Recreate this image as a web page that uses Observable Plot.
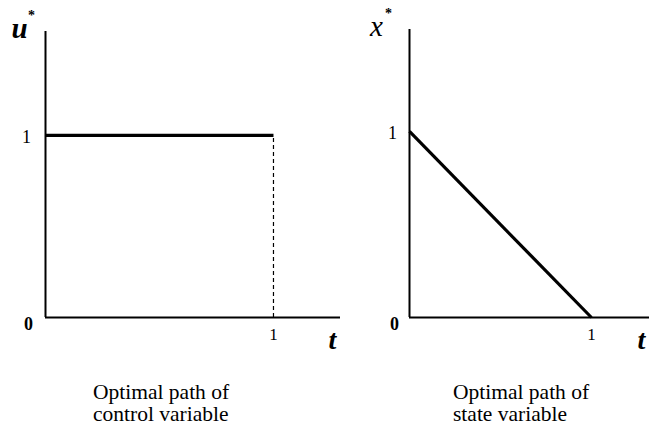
<!DOCTYPE html>
<html>
<head>
<meta charset="utf-8">
<script src="https://cdn.jsdelivr.net/npm/d3@7"></script>
<script src="https://cdn.jsdelivr.net/npm/@observablehq/plot@0.6"></script>
<style>
  html, body { margin: 0; padding: 0; background: #fff; font-family: 'Liberation Serif', serif; }
  #fig { position: relative; width: 649px; height: 430px; overflow: hidden; }
  .panel { position: absolute; top: 0; }
  .caption { position: absolute; font-size: 21.5px; line-height: 22px; color: #000; text-align: left; white-space: nowrap; }
</style>
</head>
<body>
<div id="fig">
  <div class="panel" id="left"></div>
  <div class="panel" id="right"></div>
  <div class="caption" id="capLeft" style="font-family:'Liberation Serif'"></div>
  <div class="caption" id="capRight" style="font-family:'Liberation Serif'"></div>
</div>
<script>
// Optimal control path u*(t): constant 1 up to t = 1
const controlT = [0, 1];
const controlU = [1, 1];
// Optimal state path x*(t): falls linearly from 1 to 0 at t = 1
const stateT = [0, 1];
const stateX = [1, 0];
// Tick labels
const xTicks = [1];
const yTicks = [0, 1];
const captionControl = ["Optimal path of", "control variable"];
const captionState = ["Optimal path of", "state variable"];

const controlData = controlT.map((t, i) => ({t, v: controlU[i]}));
const stateData = stateT.map((t, i) => ({t, v: stateX[i]}));

const fmt = d => String(d);
const baseStyle = {fontFamily: "'Liberation Serif', serif", fontSize: "18px", background: "transparent", overflow: "visible", color: "#000"};

function panel({width, marginLeft, marginRight, xMax, yMax, marginTop, path, dashed, varName, varBold, varDx, starDx, starDy, yLabelPad}) {
  const marks = [
    Plot.ruleX([0], {stroke: "#000", strokeWidth: 2}),
    Plot.ruleY([0], {stroke: "#000", strokeWidth: 2}),
    Plot.line(path, {x: "t", y: "v", stroke: "#000", strokeWidth: 3.2, strokeLinecap: "butt"}),
    Plot.axisX(xTicks, {tickSize: 0, tickPadding: 10, fontSize: 17, tickFormat: fmt, label: null}),
    Plot.axisY([yTicks[1]], {tickSize: 0, tickPadding: yLabelPad, textAnchor: "middle", dy: 2, fontSize: 18, tickFormat: fmt, label: null}),
    Plot.axisY([yTicks[0]], {tickSize: 0, tickPadding: yLabelPad - 2, textAnchor: "middle", dy: 7, fontSize: 18, fontWeight: "bold", tickFormat: fmt, label: null}),
    Plot.text(["t"], {frameAnchor: "bottom-right", textAnchor: "middle", lineAnchor: "middle", dx: -8, dy: 23, fontSize: 28, fontStyle: "italic", fontWeight: "bold"}),
    Plot.text([varName], {frameAnchor: "top-left", textAnchor: "middle", lineAnchor: "bottom", dx: varDx, dy: 6, fontSize: 29, fontStyle: "italic", fontWeight: varBold ? "bold" : "normal"}),
    Plot.text(["*"], {frameAnchor: "top-left", textAnchor: "middle", lineAnchor: "middle", dx: starDx, dy: starDy, fontSize: 14, fontWeight: "bold"})
  ];
  if (dashed) {
    marks.push(Plot.ruleX(xTicks, {y1: 0, y2: controlU[1], stroke: "#000", strokeWidth: 1.2, strokeDasharray: "4,3"}));
  }
  return Plot.plot({
    width, height: 360,
    marginLeft, marginRight, marginTop, marginBottom: 43,
    x: {domain: [0, xMax], axis: null},
    y: {domain: [0, yMax], axis: null},
    style: baseStyle,
    marks
  });
}

document.getElementById("left").appendChild(panel({
  width: 345, marginLeft: 45, marginRight: 5, xMax: 1.294, yMax: 1.571, marginTop: 31,
  path: controlData, dashed: true, varName: "u", varBold: true, varDx: -26, starDx: -14, starDy: -16, yLabelPad: 19
}));

const right = document.getElementById("right");
right.style.left = "345px";
right.appendChild(panel({
  width: 304, marginLeft: 64, marginRight: 0, xMax: 1.319, yMax: 1.548, marginTop: 29,
  path: stateData, dashed: false, varName: "x", varBold: false, varDx: -33, starDx: -21, starDy: -16, yLabelPad: 17
}));

function caption(id, lines, left, top) {
  const el = document.getElementById(id);
  el.style.left = left + "px";
  el.style.top = top + "px";
  lines.forEach(s => {
    const d = document.createElement("div");
    d.textContent = s;
    el.appendChild(d);
  });
}
caption("capLeft", captionControl, 93, 381);
caption("capRight", captionState, 453, 381);
</script>
</body>
</html>
